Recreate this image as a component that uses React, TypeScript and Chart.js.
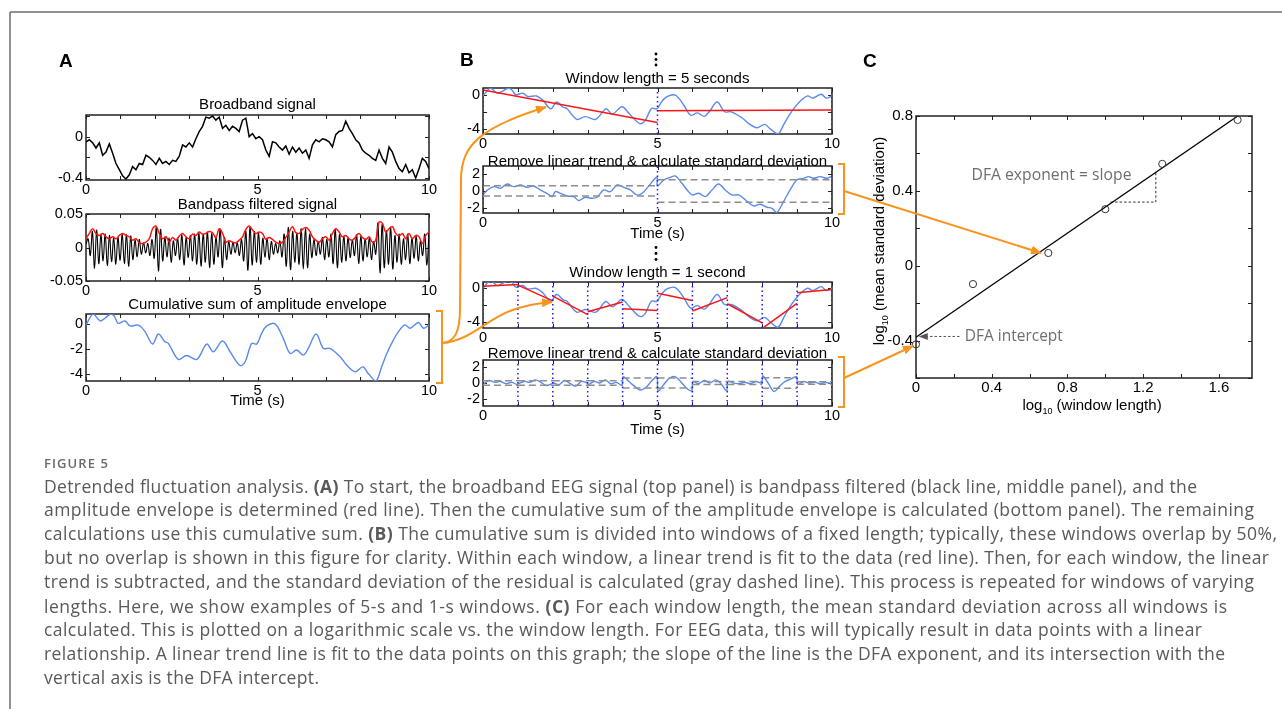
import React, { useEffect, useRef } from "react";
import { Chart, registerables } from "chart.js";
Chart.register(...registerables);

// ---------------- DATA ----------------
const TIME_TICKS = [0, 1, 2, 3, 4, 5, 6, 7, 8, 9, 10];
const TIME_LABELED = [0, 5, 10];

// A: broadband signal (uniform over 0..10 s)
const BROADBAND = [
  -0.05, -0.03, -0.06, -0.11, -0.06, -0.18, -0.15, -0.07, -0.16, -0.26,
  -0.32, -0.38, -0.41, -0.37, -0.29, -0.32, -0.26, -0.27, -0.18, -0.2,
  -0.23, -0.27, -0.21, -0.26, -0.24, -0.27, -0.23, -0.24, -0.19, -0.08,
  -0.1, -0.06, -0.1, -0.02, 0.05, 0.1, 0.19, 0.18, 0.2, 0.16,
  0.19, 0.08, 0.11, 0.06, 0.1, 0.08, 0.05, 0.16, 0.18, 0,
  0.03, -0.02, 0, -0.03, -0.13, -0.19, -0.05, -0.06, -0.1, -0.13,
  -0.09, -0.17, -0.1, -0.15, -0.11, -0.16, -0.13, -0.21, -0.08, -0.03,
  -0.05, -0.02, -0.03, -0.05, -0.1, 0.02, 0.05, 0.06, 0.15, 0.08,
  0.03, -0.03, -0.06, -0.13, -0.16, -0.18, -0.21, -0.23, -0.13, -0.21,
  -0.26, -0.1, -0.15, -0.24, -0.31, -0.34, -0.27, -0.35, -0.32, -0.4,
  -0.31, -0.21, -0.24, -0.31,
];

// A: amplitude envelope (x 0.001)
const ENVELOPE_MILLI = [
  13, 21, 28, 21, 18, 21, 16, 13, 16, 13,
  18, 21, 18, 16, 11, 13, 7, 6, 8, 13,
  28, 32, 21, 13, 16, 8, 15, 11, 17, 21,
  16, 13, 20, 18, 23, 20, 21, 24, 22, 15,
  28, 21, 8, 10, 8, 7, 11, 16, 27, 32,
  26, 21, 23, 21, 12, 15, 12, 8, 6, 8,
  15, 23, 31, 22, 21, 27, 30, 26, 16, 11,
  8, 13, 16, 11, 21, 28, 23, 16, 18, 13,
  11, 16, 21, 15, 12, 16, 8, 11, 38, 36,
  23, 28, 31, 21, 17, 21, 13, 21, 13, 18,
  16, 6, 18, 23,
];

// A: bandpass filtered signal, successive peaks / troughs (x 0.001)
const BANDPASS_MILLI = [
  5,
  13, -12, 24, -31, 26, -24, 19, -20, 20, -27, 18, -21, 14, -25, 15, -19,
  20, -24, 19, -28, 17, -18, 11, -14, 12, -10, 7, -8, 6, -12, 12, -16,
  30, -35, 27, -20, 15, -14, 14, -22, 10, -12, 14, -18, 19, -26, 15, -15,
  18, -20, 20, -25, 22, -28, 20, -22, 23, -30, 21, -25, 15, -14, 27, -30,
  15, -18, 9, -10, 8, -8, 7, -12, 12, -20, 25, -34, 31, -26, 24, -22,
  22, -25, 14, -15, 14, -18, 9, -10, 6, -8, 10, -14, 20, -28, 30, -33,
  24, -22, 22, -25, 28, -32, 28, -30, 20, -15, 12, -12, 9, -10, 15, -18,
  12, -14, 20, -24, 27, -30, 20, -22, 17, -20, 15, -15, 11, -12, 19, -24,
  17, -20, 13, -14, 14, -18, 9, -10, 36, -38, 35, -30, 25, -25, 30, -32,
  18, -22, 20, -25, 13, -18, 20, -24, 14, -16, 17, -20, 10, -12, 20, -26,
  22,
];

// Cumulative sum of amplitude envelope
const CUMSUM_T = [
  0, 0.21, 0.41, 0.55, 0.72, 0.82, 0.94, 1.14, 1.28, 1.53, 1.72, 1.94, 2.11, 2.3, 2.4, 2.69, 2.93,
  3.23, 3.52, 3.71, 3.98, 4.2, 4.49, 4.64, 4.83, 4.98, 5.12, 5.27, 5.51, 5.75, 5.95, 6.14, 6.34,
  6.48, 6.71, 6.92, 7.11, 7.41, 7.6, 7.85, 8.07, 8.23, 8.45, 8.62, 8.77, 8.96, 9.11, 9.3, 9.45,
  9.69, 9.84, 10,
];
const CUMSUM_V = [
  -0.08, 0.8, 0.24, 0.46, 0.8, 0.65, 0.05, 0.24, -0.16, -0.1, -0.62, -1.62, -0.81, -1.43, -1.57,
  -2.86, -2.54, -2.86, -1.62, -2.24, -1.38, -2.24, -3.35, -3.05, -1.57, -1.62, -0.76, -0.16, 0,
  -1.16, -2.38, -2.1, -2.51, -1.97, -0.81, -1.97, -1.97, -2.65, -3.32, -3.86, -3.46, -4, -4.6,
  -3.46, -2.38, -1.3, -0.62, -0.08, -0.35, 0.11, -0.35, -0.08,
];

// B: 5-second windows
const WIN5_EDGES = [0, 5, 10];
const TREND5 = [
  [0, 0.6, 5, -3.24],
  [5, -1.84, 10, -1.76],
];
const DETREND5_T = [
  0, 0.13, 0.31, 0.5, 0.69, 0.88, 1.07, 1.26, 1.45, 1.64, 1.83, 1.98, 2.07, 2.22, 2.41, 2.6, 2.74,
  2.93, 3.12, 3.27, 3.46, 3.65, 3.84, 4.03, 4.22, 4.41, 4.56, 4.75, 4.98,
  5.0, 5.18, 5.37, 5.51, 5.7, 5.85, 5.99, 6.18, 6.37, 6.56, 6.75, 6.94, 7.13, 7.33, 7.52, 7.75,
  7.94, 8.14, 8.28, 8.42, 8.61, 8.8, 8.99, 9.18, 9.33, 9.47, 9.66, 9.86, 10,
];
const DETREND5_V = [
  -0.48, 0.12, 0.52, 0.32, 0.84, 0.52, 0.72, 0.44, 0.6, 0.12, -0.28, -0.68, -0.08, -0.28, -0.6,
  -0.68, -1.16, -0.76, -0.88, -0.76, 0.12, -0.08, 0.72, 0.44, 0.12, -0.48, -0.28, 0.6, 1.64,
  0.6, 1.32, 1.64, 1.8, 0.92, 0.12, -0.48, -0.28, -0.68, 0.12, 0.84, 0.12, -0.48, -0.48, -1.08,
  -1.8, -1.6, -1.96, -2.08, -2.56, -1.28, 0.12, 1.32, 1.52, 1.72, 1.52, 1.72, 1.52, 1.8,
];
const STD5 = [0.62, 1.35];

// B: 1-second windows
const WIN1_EDGES = [0, 1, 2, 3, 4, 5, 6, 7, 8, 9, 10];
const TREND1 = [
  [0, 0.17, 1, 0.36],
  [1, 0.28, 2, -1.55],
  [2, -1.0, 3, -3.15],
  [3, -2.8, 4, -1.68],
  [4, -2.47, 5, -2.67],
  [5, -0.65, 6, -1.51],
  [6, -2.72, 7, -1.17],
  [7, -1.88, 8, -4.1],
  [8, -4.75, 9, -1.84],
  [9, -0.6, 10, -0.21],
];
const DETREND1 = [
  [-0.12, 0.31, 0.08, 0.19, -0.08, 0.08, -0.19],
  [-0.08, 0.19, 0.08, 0.38, 0.08, -0.31, -0.08],
  [0, -0.19, 0.31, -0.08, -0.38, 0.19, 0],
  [-0.19, 0.19, 0, 0.38, -0.08, 0.08, -0.27],
  [0.77, 0.19, -0.38, -0.85, -0.58, 0.19, 0.77],
  [-0.96, -0.19, 0.58, 0.77, 0.19, -0.58, -0.96],
  [0.19, -0.08, 0.31, 0, 0.38, -0.08, -0.96],
  [0.19, 0, -0.08, 0.08, -0.08, 0.19, 0],
  [0.85, -0.08, -1.04, -0.38, 0.19, 0.46, 0.77],
  [-0.19, 0.19, 0, 0.12, -0.08, 0.08, -0.08],
];
const STD1 = [0.28, 0.28, 0.28, 0.28, 0.62, 0.62, 0.18, 0.18, 0.65, 0.15];

// C: DFA
const LOG_WINDOW = [0, 0.301, 0.699, 1, 1.301, 1.699];
const LOG_MEAN_STD = [-0.42, -0.098, 0.068, 0.302, 0.544, 0.779];
const FIT_X = [0, 1.7];
const FIT_Y = [-0.382, 0.8];
const SLOPE_TRI_X = [1.028, 1.267, 1.267];
const SLOPE_TRI_Y = [0.34, 0.34, 0.505];
const INTERCEPT_ARROW_X = [0.23, 0.025];
const INTERCEPT_ARROW_Y = [-0.378, -0.378];
const SLOPE_LABEL_XY = [0.293, 0.485];
const INTERCEPT_LABEL_XY = [0.258, -0.377];
const C_X_TICKS = [0, 0.2, 0.4, 0.6, 0.8, 1, 1.2, 1.4, 1.6];
const C_X_LABELED = [0, 0.4, 0.8, 1.2, 1.6];
const C_Y_TICKS = [-0.6, -0.4, -0.2, 0, 0.2, 0.4, 0.6, 0.8];
const C_Y_LABELED = [-0.4, 0, 0.4, 0.8];

const CAPTION: [string, boolean][][] = [
  [["Detrended fluctuation analysis. ", false], ["(A)", true], [" To start, the broadband EEG signal (top panel) is bandpass filtered (black line, middle panel), and the", false]],
  [["amplitude envelope is determined (red line). Then the cumulative sum of the amplitude envelope is calculated (bottom panel). The remaining", false]],
  [["calculations use this cumulative sum. ", false], ["(B)", true], [" The cumulative sum is divided into windows of a fixed length; typically, these windows overlap by 50%,", false]],
  [["but no overlap is shown in this figure for clarity. Within each window, a linear trend is fit to the data (red line). Then, for each window, the linear", false]],
  [["trend is subtracted, and the standard deviation of the residual is calculated (gray dashed line). This process is repeated for windows of varying", false]],
  [["lengths. Here, we show examples of 5-s and 1-s windows. ", false], ["(C)", true], [" For each window length, the mean standard deviation across all windows is", false]],
  [["calculated. This is plotted on a logarithmic scale vs. the window length. For EEG data, this will typically result in data points with a linear", false]],
  [["relationship. A linear trend line is fit to the data points on this graph; the slope of the line is the DFA exponent, and its intersection with the", false]],
  [["vertical axis is the DFA intercept.", false]],
];

// ---------------- STYLE ----------------
const FONT = '"Liberation Sans", Arial, Helvetica, sans-serif';
const BLUE = "#5A8AEE";
const RED = "#FF1414";
const ORANGE = "#F7941D";
const DOT_BLUE = "#1A1AF5";
const GRAY_DASH = "#8E8E8E";
const FRAME = "#222";

// ---------------- HELPERS ----------------
type Pt = { x: number; y: number | null };
const uniform = (n: number, t0: number, t1: number) =>
  Array.from({ length: n }, (_, i) => t0 + ((t1 - t0) * i) / (n - 1));
const pts = (xs: number[], ys: number[], k = 1): Pt[] => xs.map((x, i) => ({ x, y: ys[i] * k }));
const segData = (segs: number[][]): Pt[] =>
  segs.flatMap(([x0, y0, x1, y1]) => [
    { x: x0, y: y0 },
    { x: x1, y: y1 },
    { x: x1, y: null },
  ]);
const vLines = (xs: number[], y0: number, y1: number) => segData(xs.map((x) => [x, y0, x, y1]));
const stdLines = (edges: number[], stds: number[]) =>
  segData(
    stds.flatMap((s, i) => [
      [edges[i], s, edges[i + 1], s],
      [edges[i], -s, edges[i + 1], -s],
    ])
  );
const windowed = (rows: number[][]) =>
  rows.flatMap((row, w) =>
    row.map((v, k) => ({ x: w + 0.02 + (k * 0.96) / (row.length - 1), y: v }))
  );

const line = (data: Pt[], color: string, width: number, extra: any = {}) => ({
  data,
  borderColor: color,
  backgroundColor: color,
  borderWidth: width,
  pointRadius: 0,
  fill: false,
  tension: 0,
  spanGaps: false,
  ...extra,
});

interface Panel {
  key: string;
  box: [number, number, number, number];
  pad: [number, number, number, number];
  x: [number, number];
  y: [number, number];
  xTicks: number[];
  xLabeled: number[];
  yTicks: number[];
  yLabeled: number[];
  tickFont: number;
  title?: string;
  titleGap?: number;
  xTitle?: string;
  xTitleGap?: number;
  datasets: any[];
  extra?: (ctx: CanvasRenderingContext2D, chart: any) => void;
}

const has = (arr: number[], v: number) => arr.some((a) => Math.abs(a - v) < 1e-9);

function drawLogText(ctx: CanvasRenderingContext2D, rest: string, cx: number, cy: number) {
  ctx.font = `15px ${FONT}`;
  const w1 = ctx.measureText("log").width;
  ctx.font = `9px ${FONT}`;
  const w2 = ctx.measureText("10").width;
  ctx.font = `15px ${FONT}`;
  const w3 = ctx.measureText(rest).width;
  const start = cx - (w1 + w2 + w3) / 2;
  ctx.textAlign = "left";
  ctx.textBaseline = "middle";
  ctx.fillStyle = "#000";
  ctx.fillText("log", start, cy);
  ctx.font = `9px ${FONT}`;
  ctx.fillText("10", start + w1, cy + 6);
  ctx.font = `15px ${FONT}`;
  ctx.fillText(rest, start + w1 + w2, cy);
}

function fittedText(
  ctx: CanvasRenderingContext2D,
  text: string,
  x: number,
  y: number,
  width: number,
  font: string,
  color: string
) {
  ctx.save();
  ctx.font = font;
  const m = ctx.measureText(text).width;
  ctx.translate(x, y);
  ctx.scale(width / m, 1);
  ctx.fillStyle = color;
  ctx.textAlign = "left";
  ctx.textBaseline = "middle";
  ctx.fillText(text, 0, 0);
  ctx.restore();
}

// ---------------- PANELS ----------------
const A_PAD: [number, number, number, number] = [50, 24, 16, 30];
const B_PAD: [number, number, number, number] = [40, 24, 16, 32];

const timeAxes = {
  x: [0, 10] as [number, number],
  xTicks: TIME_TICKS,
  xLabeled: TIME_LABELED,
  tickFont: 14.5,
};

const PANELS: Panel[] = [
  {
    key: "a1",
    box: [86, 115, 429, 180],
    pad: A_PAD,
    ...timeAxes,
    y: [-0.42, 0.21],
    yTicks: [-0.4, -0.2, 0, 0.2],
    yLabeled: [-0.4, 0],
    title: "Broadband signal",
    titleGap: 10,
    datasets: [line(pts(uniform(BROADBAND.length, 0, 10), BROADBAND), "#000", 1.5)],
  },
  {
    key: "a2",
    box: [86, 214, 429, 281],
    pad: A_PAD,
    ...timeAxes,
    y: [-0.05, 0.05],
    yTicks: [-0.05, 0, 0.05],
    yLabeled: [-0.05, 0, 0.05],
    title: "Bandpass filtered signal",
    titleGap: 9,
    datasets: [
      line(pts(uniform(ENVELOPE_MILLI.length, 0, 10), ENVELOPE_MILLI, 0.001), RED, 1.5, { tension: 0.4 }),
      line(pts(uniform(BANDPASS_MILLI.length, 0, 10), BANDPASS_MILLI, 0.001), "#000", 1.1, { tension: 0.4 }),
    ],
  },
  {
    key: "a3",
    box: [86, 314, 429, 381],
    pad: A_PAD,
    ...timeAxes,
    y: [-4.6, 0.8],
    yTicks: [-4, -2, 0],
    yLabeled: [-4, -2, 0],
    title: "Cumulative sum of amplitude envelope",
    titleGap: 9,
    xTitle: "Time (s)",
    xTitleGap: 20,
    datasets: [line(pts(CUMSUM_T, CUMSUM_V), BLUE, 1.4, { tension: 0.35 })],
  },
  {
    key: "b1",
    box: [483, 88, 832, 134],
    pad: B_PAD,
    ...timeAxes,
    y: [-4.6, 0.85],
    yTicks: [-4, -2, 0],
    yLabeled: [-4, 0],
    title: "Window length = 5 seconds",
    titleGap: 9,
    datasets: [
      line(vLines(WIN5_EDGES, -4.6, 0.85), DOT_BLUE, 1.5, { borderDash: [1.5, 3] }),
      line(segData(TREND5), RED, 1.5),
      line(pts(CUMSUM_T, CUMSUM_V), BLUE, 1.4, { tension: 0.35 }),
    ],
  },
  {
    key: "b2",
    box: [483, 166, 832, 213],
    pad: B_PAD,
    ...timeAxes,
    y: [-2.65, 3.0],
    yTicks: [-2, 0, 2],
    yLabeled: [-2, 0, 2],
    title: "Remove linear trend & calculate standard deviation",
    titleGap: 4.5,
    xTitle: "Time (s)",
    xTitleGap: 21,
    datasets: [
      line(vLines(WIN5_EDGES, -2.65, 3.0), DOT_BLUE, 1.5, { borderDash: [1.5, 3] }),
      line(stdLines(WIN5_EDGES, STD5), GRAY_DASH, 1.5, { borderDash: [7, 4] }),
      line(pts(DETREND5_T, DETREND5_V), BLUE, 1.4, { tension: 0.35 }),
    ],
  },
  {
    key: "b3",
    box: [483, 282, 832, 328],
    pad: B_PAD,
    ...timeAxes,
    y: [-4.7, 0.65],
    yTicks: [-4, -2, 0],
    yLabeled: [-4, 0],
    title: "Window length = 1 second",
    titleGap: 9,
    datasets: [
      line(vLines(WIN1_EDGES, -4.7, 0.65), DOT_BLUE, 1.5, { borderDash: [1.5, 3] }),
      line(segData(TREND1), RED, 1.5),
      line(pts(CUMSUM_T, CUMSUM_V), BLUE, 1.4, { tension: 0.35 }),
    ],
  },
  {
    key: "b4",
    box: [483, 360, 832, 406],
    pad: B_PAD,
    ...timeAxes,
    y: [-2.8, 2.8],
    yTicks: [-2, 0, 2],
    yLabeled: [-2, 0, 2],
    title: "Remove linear trend & calculate standard deviation",
    titleGap: 6,
    xTitle: "Time (s)",
    xTitleGap: 24,
    datasets: [
      line(vLines(WIN1_EDGES, -2.8, 2.8), DOT_BLUE, 1.5, { borderDash: [1.5, 3] }),
      line(stdLines(WIN1_EDGES, STD1), GRAY_DASH, 1.5, { borderDash: [7, 4] }),
      line(windowed(DETREND1), BLUE, 1.4, { tension: 0.35 }),
    ],
  },
  {
    key: "c",
    box: [916, 116, 1252, 378],
    pad: [60, 14, 22, 46],
    x: [0, 1.775],
    y: [-0.6, 0.8],
    xTicks: C_X_TICKS,
    xLabeled: C_X_LABELED,
    yTicks: C_Y_TICKS,
    yLabeled: C_Y_LABELED,
    tickFont: 15,
    datasets: [
      line(pts(LOG_WINDOW, LOG_MEAN_STD), "#333", 1, {
        showLine: false,
        pointRadius: 3.6,
        pointBorderWidth: 1,
        pointBackgroundColor: "rgba(255,255,255,0)",
        pointBorderColor: "#333",
        clip: false,
      }),
      line(pts(FIT_X, FIT_Y), "#000", 1.3),
      line(pts(SLOPE_TRI_X, SLOPE_TRI_Y), "#333", 1, { borderDash: [2.5, 2] }),
      line(pts(INTERCEPT_ARROW_X, INTERCEPT_ARROW_Y), "#555", 1, { borderDash: [2.5, 2] }),
    ],
    extra: (ctx, chart) => {
      const xs = chart.scales.x;
      const ys = chart.scales.y;
      const a = chart.chartArea;
      const hx = xs.getPixelForValue(INTERCEPT_ARROW_X[1]);
      const hy = ys.getPixelForValue(INTERCEPT_ARROW_Y[1]);
      ctx.fillStyle = "#555";
      ctx.beginPath();
      ctx.moveTo(hx - 2, hy);
      ctx.lineTo(hx + 7, hy - 3.5);
      ctx.lineTo(hx + 7, hy + 3.5);
      ctx.closePath();
      ctx.fill();
      fittedText(
        ctx,
        "DFA exponent = slope",
        xs.getPixelForValue(SLOPE_LABEL_XY[0]),
        ys.getPixelForValue(SLOPE_LABEL_XY[1]),
        160,
        '17px "Open Sans", sans-serif',
        "#6D6E71"
      );
      fittedText(
        ctx,
        "DFA intercept",
        xs.getPixelForValue(INTERCEPT_LABEL_XY[0]),
        ys.getPixelForValue(INTERCEPT_LABEL_XY[1]),
        98,
        '17px "Open Sans", sans-serif',
        "#6D6E71"
      );
      drawLogText(ctx, " (window length)", (a.left + a.right) / 2 + 8, a.bottom + 28);
      ctx.save();
      ctx.translate(a.left - 36, (a.top + a.bottom) / 2 - 6);
      ctx.rotate(-Math.PI / 2);
      drawLogText(ctx, " (mean standard deviation)", 0, 0);
      ctx.restore();
    },
  },
];

function buildConfig(p: Panel): any {
  const [L, T, R, B] = p.pad;
  const TL = 4;
  const framePlugin = {
    id: "frame_" + p.key,
    beforeDatasetsDraw(chart: any) {
      const { ctx, chartArea: a, scales } = chart;
      const xs = scales.x;
      const ys = scales.y;
      ctx.save();
      ctx.strokeStyle = FRAME;
      ctx.lineWidth = 1;
      ctx.beginPath();
      p.xTicks.forEach((v) => {
        const px = Math.round(xs.getPixelForValue(v)) + 0.5;
        ctx.moveTo(px, a.bottom);
        ctx.lineTo(px, a.bottom - TL);
        ctx.moveTo(px, a.top);
        ctx.lineTo(px, a.top + TL);
      });
      p.yTicks.forEach((v) => {
        const py = Math.round(ys.getPixelForValue(v)) + 0.5;
        ctx.moveTo(a.left, py);
        ctx.lineTo(a.left + TL, py);
        ctx.moveTo(a.right, py);
        ctx.lineTo(a.right - TL, py);
      });
      ctx.stroke();
      ctx.lineWidth = 1.5;
      ctx.strokeRect(a.left, a.top, a.right - a.left, a.bottom - a.top);
      ctx.fillStyle = "#000";
      ctx.textAlign = "center";
      ctx.textBaseline = "middle";
      ctx.font = `15px ${FONT}`;
      if (p.title) ctx.fillText(p.title, (a.left + a.right) / 2, a.top - (p.titleGap || 10));
      if (p.xTitle) ctx.fillText(p.xTitle, (a.left + a.right) / 2, a.bottom + (p.xTitleGap || 20));
      ctx.restore();
    },
    afterDatasetsDraw(chart: any) {
      if (p.extra) {
        chart.ctx.save();
        p.extra(chart.ctx, chart);
        chart.ctx.restore();
      }
    },
  };
  const tickFont = { size: p.tickFont, family: FONT };
  return {
    type: "line",
    data: { datasets: p.datasets },
    options: {
      animation: false,
      responsive: false,
      maintainAspectRatio: false,
      events: [],
      layout: { padding: { left: 0, top: T, right: R, bottom: 0 } },
      plugins: { legend: { display: false }, tooltip: { enabled: false }, title: { display: false } },
      scales: {
        x: {
          type: "linear",
          min: p.x[0],
          max: p.x[1],
          grid: { display: false, drawTicks: false },
          border: { display: false },
          afterBuildTicks: (s: any) => {
            s.ticks = p.xTicks.map((v) => ({ value: v }));
          },
          afterFit: (s: any) => {
            s.height = B;
          },
          ticks: {
            autoSkip: false,
            maxRotation: 0,
            minRotation: 0,
            padding: 1,
            color: "#000",
            font: tickFont,
            callback: (v: number) => (has(p.xLabeled, v) ? String(v) : ""),
          },
        },
        y: {
          type: "linear",
          min: p.y[0],
          max: p.y[1],
          grid: { display: false, drawTicks: false },
          border: { display: false },
          afterBuildTicks: (s: any) => {
            s.ticks = p.yTicks.map((v) => ({ value: v }));
          },
          afterFit: (s: any) => {
            s.width = L;
          },
          ticks: {
            autoSkip: false,
            padding: 3,
            color: "#000",
            font: tickFont,
            callback: (v: number) => (has(p.yLabeled, v) ? String(v) : ""),
          },
        },
      },
    },
    plugins: [framePlugin],
  };
}

function ChartPanel({ p }: { p: Panel }) {
  const ref = useRef<HTMLCanvasElement>(null);
  const [L, T, R, B] = p.pad;
  const w = p.box[2] - p.box[0] + L + R;
  const h = p.box[3] - p.box[1] + T + B;
  useEffect(() => {
    if (!ref.current) return;
    const chart = new Chart(ref.current, buildConfig(p));
    return () => chart.destroy();
  }, []);
  return (
    <canvas
      ref={ref}
      width={w}
      height={h}
      style={{ position: "absolute", left: p.box[0] - L, top: p.box[1] - T, width: w, height: h }}
    />
  );
}

const CAPTION_CENTERS = [486.7, 510, 534.3, 558.3, 582.3, 606.7, 630, 654, 678.3];
const CAPTION_ENDS = [1197, 1254, 1277, 1269, 1254, 1227, 1202, 1225, 319];

export default function App() {
  return (
    <div
      style={{
        position: "fixed",
        left: 0,
        top: 0,
        width: 1282,
        height: 709,
        background: "#fff",
        overflow: "hidden",
      }}
    >
      {PANELS.map((p) => (
        <ChartPanel key={p.key} p={p} />
      ))}
      <svg
        width={1282}
        height={709}
        style={{ position: "absolute", left: 0, top: 0, pointerEvents: "none" }}
      >
        <defs>
          <marker
            id="oa"
            markerWidth={11}
            markerHeight={9}
            refX={10}
            refY={4.5}
            orient="auto"
            markerUnits="userSpaceOnUse"
          >
            <path d="M0,0 L11,4.5 L0,9 z" fill={ORANGE} />
          </marker>
        </defs>
        <line x1={10} y1={12} x2={1282} y2={12} stroke="#6b6b6b" strokeWidth={1.5} />
        <line x1={10} y1={12} x2={10} y2={709} stroke="#6b6b6b" strokeWidth={1.5} />

        <g fontFamily={FONT} fontWeight="bold" fontSize={19} fill="#000">
          <text x={59} y={67}>A</text>
          <text x={460} y={66}>B</text>
          <text x={863} y={67}>C</text>
        </g>

        <g fill="#000">
          <circle cx={656} cy={54} r={1.4} />
          <circle cx={656} cy={59.5} r={1.4} />
          <circle cx={656} cy={65} r={1.4} />
          <circle cx={656} cy={247.5} r={1.4} />
          <circle cx={656} cy={253.5} r={1.4} />
          <circle cx={656} cy={259.5} r={1.4} />
        </g>

        <g stroke={ORANGE} strokeWidth={2} fill="none">
          <path d="M436,311 L442,311 L442,383 L436,383" />
          <path
            d="M442,343 C455,342 460,332 460,308 L461,178 C462,146 478,128 546,107"
            markerEnd="url(#oa)"
          />
          <path d="M442,343 C470,341 486,320 510,311 C526,305 538,303 552,302" markerEnd="url(#oa)" />
          <path d="M838,164 L844,164 L844,214 L838,214" />
          <path d="M844,191 L1041,253" markerEnd="url(#oa)" />
          <path d="M838,357 L844,357 L844,407 L838,407" />
          <path d="M844,378 L913,346" markerEnd="url(#oa)" />
        </g>

        <text
          x={44}
          y={468}
          fontFamily='"Open Sans", sans-serif'
          fontSize={13}
          fontWeight={600}
          fill="#6a6a6a"
          textLength={64}
          lengthAdjust="spacing"
        >
          FIGURE 5
        </text>
        <g fontFamily='"Open Sans", sans-serif' fontSize={17.5} fill="#58595B">
          {CAPTION.map((segs, i) => (
            <text
              key={i}
              x={44}
              y={CAPTION_CENTERS[i] + 6}
              textLength={CAPTION_ENDS[i] - 44}
              lengthAdjust="spacing"
            >
              {segs.map(([t, b], j) => (
                <tspan key={j} fontWeight={b ? 700 : 400}>
                  {t}
                </tspan>
              ))}
            </text>
          ))}
        </g>
      </svg>
    </div>
  );
}
